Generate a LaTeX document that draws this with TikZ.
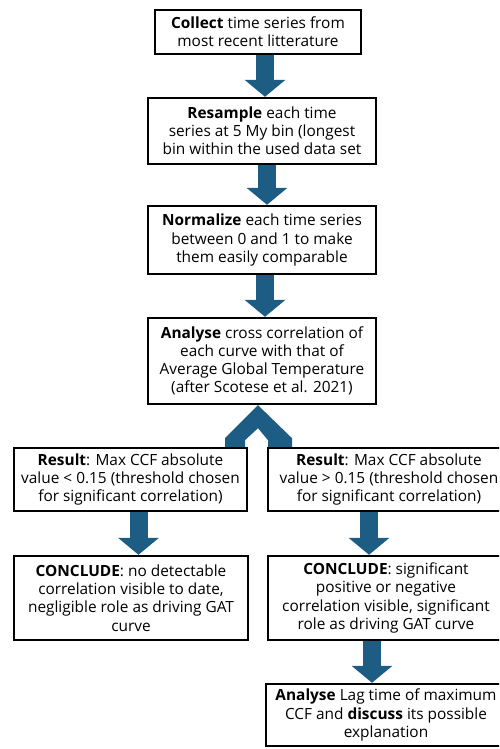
\documentclass[tikz,border=0pt]{standalone}
\usepackage{fontspec}
\setmainfont{Open Sans}
\usetikzlibrary{arrows.meta,positioning}
\definecolor{flowblue}{HTML}{1E5D83}

\begin{document}
\begin{tikzpicture}[
  x=1pt, y=-1pt,
  box/.style={draw=black, line width=2.4pt, fill=white, align=center, inner sep=0pt, font=\fontsize{15.4}{18.2}\selectfont},
  flowarrow/.style={draw=flowblue, line width=18pt, -{Triangle[width=40pt,length=17pt]}}
]
\useasboundingbox (0,0) rectangle (499,749);
\clip (0,0) rectangle (499,749);
\node[box, minimum width=206pt, minimum height=44pt] (collect) at (258,32) {\textbf{Collect} time series from\\most recent litterature};
\node[box, minimum width=228pt, minimum height=66pt] (resample) at (262,131) {\textbf{Resample} each time\\series at 5 My bin (longest\\bin within the used data set};
\node[box, minimum width=228pt, minimum height=68pt] (normalize) at (262,240) {\textbf{Normalize} each time series\\between 0 and 1 to make\\them easily comparable};
\node[box, minimum width=228pt, minimum height=86pt] (analyse) at (262,361) {\textbf{Analyse} cross correlation of\\each curve with that of\\Average Global Temperature\\(after Scotese et al. 2021)};
% split arrow below the analysis
\fill[flowblue] ([xshift=-4pt]analyse.south) -- ++(34,33) -- ++(0,16) -- ++(-24,0) -- ++(0,-14) -- ++(-10,-12) -- ++(-13,12) -- ++(0,14) -- ++(-20,0) -- ++(0,-16) -- cycle;
\node[box, minimum width=233pt, minimum height=63pt] (resultlow) at (130.5,479.5) {\textbf{Result}: Max CCF absolute\\value < 0.15 (threshold chosen\\for significant correlation)};
\node[box, minimum width=242pt, minimum height=63pt] (resulthigh) at (389,479.5) {\textbf{Result}: Max CCF absolute\\value > 0.15 (threshold chosen\\for significant correlation)};
\node[box, minimum width=234pt, minimum height=84pt] (concludelow) at (131,598) {\textbf{CONCLUDE}: no detectable\\correlation visible to date,\\negligible role as driving GAT\\curve};
\node[box, minimum width=236pt, minimum height=84pt] (concludehigh) at (386,598) {\textbf{CONCLUDE}: significant\\positive or negative\\correlation visible, significant\\role as driving GAT curve};
\node[box, minimum width=240pt, minimum height=62pt] (lag) at (386,715) {\textbf{Analyse} Lag time of maximum\\CCF and \textbf{discuss} its possible\\explanation};
\draw[flowarrow] ([xshift=7pt]collect.south) -- ([xshift=7pt]collect.south |- resample.north);
\draw[flowarrow] ([xshift=5pt]resample.south) -- ([xshift=5pt]resample.south |- normalize.north);
\draw[flowarrow] ([xshift=3pt]normalize.south) -- ([xshift=3pt]normalize.south |- analyse.north);
\draw[flowarrow] ([xshift=8pt]resultlow.south) -- ([xshift=8pt]resultlow.south |- concludelow.north);
\draw[flowarrow] ([xshift=-20pt]resulthigh.south) -- ([xshift=-20pt]resulthigh.south |- concludehigh.north);
\draw[flowarrow] ([xshift=-14pt]concludehigh.south) -- ([xshift=-14pt]concludehigh.south |- lag.north);
\end{tikzpicture}
\end{document}
